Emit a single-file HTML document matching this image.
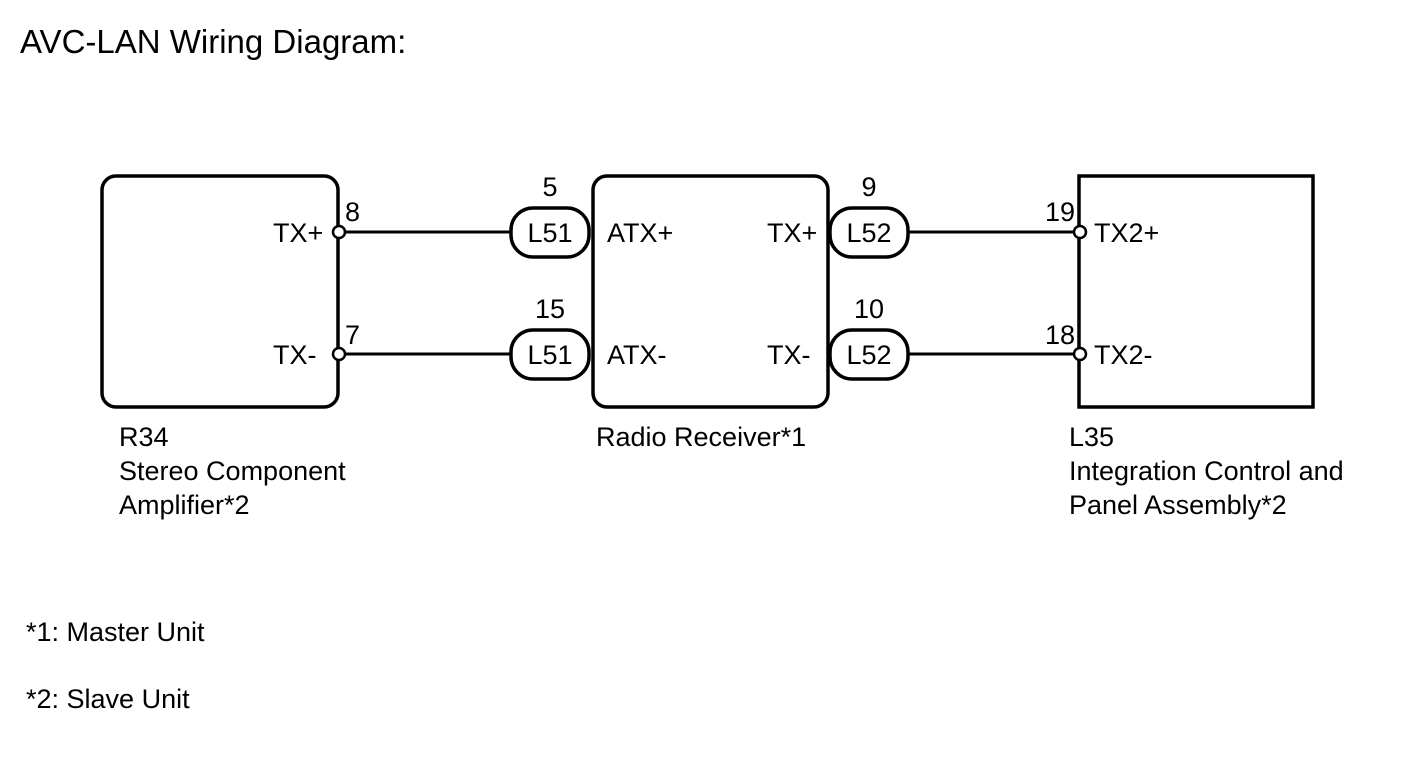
<!DOCTYPE html>
<html><head><meta charset="utf-8"><style>
html,body{margin:0;padding:0;background:#fff;}
svg{display:block;}
text{font-family:"Liberation Sans",Arial,sans-serif;fill:#000;}
</style></head><body>
<svg width="1424" height="759" viewBox="0 0 1424 759" xmlns="http://www.w3.org/2000/svg">
<text x="20" y="53" font-size="33">AVC-LAN Wiring Diagram:</text>
<g fill="none" stroke="#000" stroke-width="3.5">
<rect x="102" y="176" width="236" height="231" rx="14"/>
<rect x="593" y="176" width="235" height="231" rx="14"/>
<rect x="1079" y="176" width="234" height="231"/>
<line x1="344" y1="232" x2="511" y2="232" stroke-width="3"/>
<line x1="344" y1="354" x2="511" y2="354" stroke-width="3"/>
<line x1="908" y1="232" x2="1074" y2="232" stroke-width="3"/>
<line x1="908" y1="354" x2="1074" y2="354" stroke-width="3"/>
<rect x="511" y="208" width="78" height="49" rx="22" fill="#fff"/>
<rect x="511" y="330" width="78" height="49" rx="22" fill="#fff"/>
<rect x="830" y="208" width="78" height="49" rx="22" fill="#fff"/>
<rect x="830" y="330" width="78" height="49" rx="22" fill="#fff"/>
</g>
<g fill="#fff" stroke="#000" stroke-width="2.5">
<circle cx="339" cy="232" r="6"/>
<circle cx="339" cy="354" r="6"/>
<circle cx="1080" cy="232" r="6"/>
<circle cx="1080" cy="354" r="6"/>
</g>
<g font-size="27">
<text x="273" y="242">TX+</text>
<text x="273" y="364">TX-</text>
<text x="345" y="221">8</text>
<text x="345" y="344">7</text>
<text x="550" y="196" text-anchor="middle">5</text>
<text x="550" y="318" text-anchor="middle">15</text>
<text x="550" y="242" text-anchor="middle">L51</text>
<text x="550" y="364" text-anchor="middle">L51</text>
<text x="607" y="242">ATX+</text>
<text x="607" y="364">ATX-</text>
<text x="767" y="242">TX+</text>
<text x="767" y="364">TX-</text>
<text x="869" y="196" text-anchor="middle">9</text>
<text x="869" y="318" text-anchor="middle">10</text>
<text x="869" y="242" text-anchor="middle">L52</text>
<text x="869" y="364" text-anchor="middle">L52</text>
<text x="1075" y="221" text-anchor="end">19</text>
<text x="1075" y="344" text-anchor="end">18</text>
<text x="1094" y="242">TX2+</text>
<text x="1094" y="364">TX2-</text>
<text x="119" y="446">R34</text>
<text x="119" y="480">Stereo Component</text>
<text x="119" y="514">Amplifier*2</text>
<text x="596" y="446">Radio Receiver*1</text>
<text x="1069" y="446">L35</text>
<text x="1069" y="480">Integration Control and</text>
<text x="1069" y="514">Panel Assembly*2</text>
<text x="26" y="641">*1: Master Unit</text>
<text x="26" y="708">*2: Slave Unit</text>
</g>
</svg>
</body></html>
